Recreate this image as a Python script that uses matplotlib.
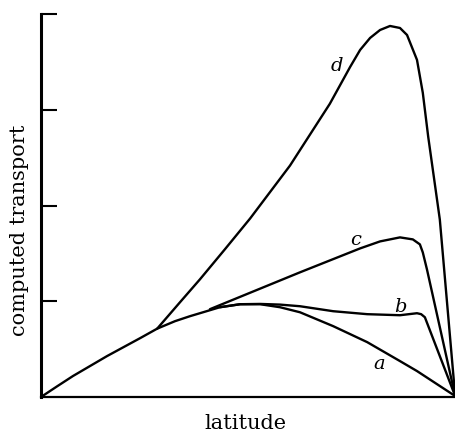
import matplotlib
matplotlib.use("Agg")
import matplotlib.pyplot as plt

plt.rcParams['font.family'] = ['DejaVu Serif']

# computed transport vs latitude for four cases (a-d)
lat_a = [0, 0.039, 0.077, 0.118, 0.159, 0.239, 0.280, 0.323, 0.359, 0.431, 0.480, 0.528,
         0.576, 0.624, 0.704, 0.786, 0.865, 0.906, 0.998]
tr_a = [0, 0.112, 0.219, 0.323, 0.427, 0.615, 0.714, 0.792, 0.844, 0.9375, 0.969, 0.969,
        0.9375, 0.885, 0.740, 0.573, 0.375, 0.271, 0.01]

lat_b = [0.431, 0.480, 0.528, 0.576, 0.624, 0.704, 0.786, 0.865, 0.906, 0.916, 0.925, 0.998]
tr_b = [0.9375, 0.969, 0.972, 0.965, 0.948, 0.896, 0.865, 0.854, 0.875, 0.865, 0.833, 0.01]

lat_c = [0.407, 0.624, 0.769, 0.817, 0.865, 0.896, 0.913, 0.920, 0.930, 0.998]
tr_c = [0.917, 1.302, 1.552, 1.625, 1.667, 1.646, 1.594, 1.510, 1.333, 0.01]

lat_d = [0.280, 0.335, 0.383, 0.443, 0.504, 0.600, 0.696, 0.745, 0.769, 0.793, 0.817,
         0.841, 0.865, 0.882, 0.906, 0.920, 0.933, 0.961, 0.998]
tr_d = [0.714, 0.990, 1.229, 1.542, 1.865, 2.417, 3.0625, 3.448, 3.625, 3.75, 3.833,
        3.875, 3.854, 3.781, 3.521, 3.177, 2.719, 1.854, 0.01]

curve_labels = ['a', 'b', 'c', 'd']
label_x = [0.815, 0.867, 0.759, 0.713]
label_y = [0.35, 0.95, 1.65, 3.47]

fig = plt.figure(figsize=(4.56, 4.35), dpi=100)
ax = fig.add_axes([41 / 456, 37 / 435, 415 / 456, 383 / 435])

for xs, ys in [(lat_a, tr_a), (lat_b, tr_b), (lat_c, tr_c), (lat_d, tr_d)]:
    ax.plot(xs, ys, color='black', lw=1.7, solid_joinstyle='round', solid_capstyle='round')

for lab, x, y in zip(curve_labels, label_x, label_y):
    ax.text(x, y, lab, fontsize=14, style='italic', ha='center', va='center')

ax.set_xlim(0, 1)
ax.set_ylim(0, 4)
ax.set_xticks([])
ax.set_yticks([1, 2, 3, 4])
ax.set_yticklabels([])
ax.tick_params(axis='y', direction='in', length=11.5, width=1.5, color='black')
ax.spines['top'].set_visible(False)
ax.spines['right'].set_visible(False)
ax.spines['left'].set_linewidth(2.2)
ax.spines['bottom'].set_linewidth(1.6)

# axis titles placed in figure coordinates
fig.text(245 / 456, 1 - 424 / 435, 'latitude', fontsize=15, ha='center', va='center')
fig.text(20 / 456, 1 - 230 / 435, 'computed transport', fontsize=15,
         rotation=90, ha='center', va='center')

fig.savefig('out.png', dpi=100, facecolor='white')
